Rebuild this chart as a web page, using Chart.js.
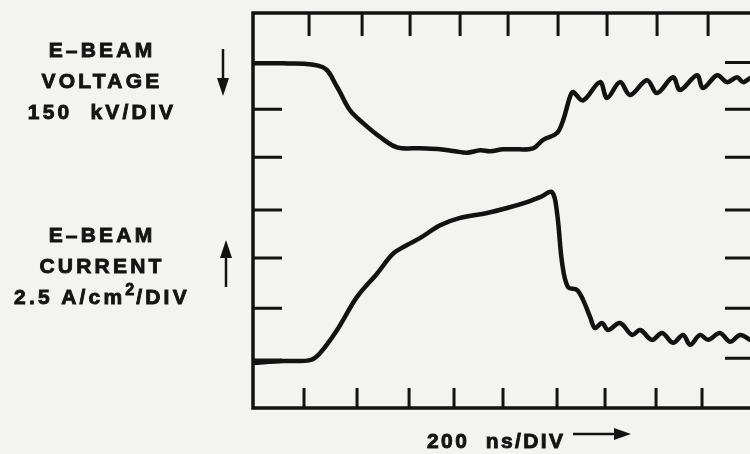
<!DOCTYPE html>
<html>
<head>
<meta charset="utf-8">
<script src="https://cdn.jsdelivr.net/npm/chart.js@4.4.1/dist/chart.umd.min.js"></script>
<style>
  html, body { margin:0; padding:0; background:#f3f3f1; overflow:hidden; }
  #wrap { position:relative; width:750px; height:454px; }
  canvas { position:absolute; left:0; top:0; }
  .lbl { position:absolute; font-family:"Liberation Sans", Arial, sans-serif; font-weight:bold; font-size:21px;
         color:#141414; letter-spacing:3.2px; text-align:center; white-space:nowrap; line-height:31px;
         -webkit-text-stroke:0.9px #141414; }
  .sup { font-size:16px; position:relative; top:-9px; letter-spacing:2px; }
</style>
</head>
<body>
<div id="wrap">
  <canvas id="c" width="750" height="454"></canvas>
  <div class="lbl" style="left:2px; top:34px; width:200px;">E–BEAM<br>VOLTAGE<br>150&nbsp; kV/DIV</div>
  <div class="lbl" style="left:2px; top:219px; width:200px;">E–BEAM<br>CURRENT<br>2.5 A/cm<span class="sup">2</span>/DIV</div>
  <div class="lbl" style="left:427px; top:425px; text-align:left; letter-spacing:2.4px;">200&nbsp; ns/DIV</div>
</div>
<script>
// Time axis in ns (200 ns/DIV); vertical axis in screen divisions (0 = bottom, 8 = top)
const voltageTime = [0, 119, 277, 333, 384, 436, 503, 570, 661, 741, 800, 847, 900, 939, 990, 1030, 1109, 1149, 1204, 1228, 1255, 1267, 1307, 1374, 1402, 1453, 1493, 1560, 1600, 1663, 1691, 1758, 1782, 1838, 1877, 1917, 1940, 1968];
const voltageDiv  = [6.98, 6.98, 6.90, 6.50, 6.03, 5.77, 5.49, 5.28, 5.26, 5.24, 5.20, 5.17, 5.22, 5.20, 5.24, 5.24, 5.26, 5.43, 5.57, 5.83, 6.30, 6.40, 6.23, 6.60, 6.28, 6.60, 6.34, 6.64, 6.38, 6.70, 6.44, 6.74, 6.48, 6.74, 6.60, 6.70, 6.60, 6.68];

const currentTime = [0, 119, 226, 265, 333, 412, 491, 554, 610, 661, 741, 820, 927, 1006, 1085, 1137, 1184, 1204, 1224, 1247, 1283, 1307, 1335, 1354, 1382, 1406, 1453, 1501, 1533, 1580, 1620, 1663, 1703, 1731, 1770, 1802, 1849, 1889, 1929, 1968];
const currentDiv  = [0.91, 0.95, 0.97, 1.11, 1.58, 2.25, 2.72, 3.12, 3.30, 3.44, 3.70, 3.85, 3.95, 4.05, 4.17, 4.27, 4.37, 3.95, 2.94, 2.45, 2.39, 2.19, 1.84, 1.62, 1.72, 1.58, 1.72, 1.48, 1.58, 1.38, 1.52, 1.32, 1.48, 1.28, 1.48, 1.38, 1.52, 1.34, 1.48, 1.38];

// Graticule tick marks (hand-drawn positions)
const topTicksNs    = [222, 432, 622, 820, 1010, 1208, 1402, 1600, 1802];
const bottomTicksNs = [202, 412, 618, 796, 990, 1204, 1394, 1596, 1778];
const leftTicksDiv  = [6.98, 6.05, 5.08, 4.01, 3.04, 2.02, 0.97];
const rightTicksDiv = [7.0, 6.05, 5.08, 4.01, 3.04, 2.02, 1.01];

const toPts = (xs, ys) => xs.map((x, i) => ({ x: x, y: ys[i] }));

const ink = '#121212';

const scopePlugin = {
  id: 'scope',
  afterDraw(chart) {
    const ctx = chart.ctx;
    const xs = chart.scales.x, ys = chart.scales.y;
    const a = chart.chartArea;
    ctx.save();
    ctx.strokeStyle = ink;
    ctx.fillStyle = ink;
    ctx.lineCap = 'square';
    // frame
    ctx.lineWidth = 3.5;
    ctx.beginPath();
    ctx.moveTo(a.right + 5, a.top);
    ctx.lineTo(a.left, a.top);
    ctx.lineTo(a.left, a.bottom);
    ctx.lineTo(a.right + 5, a.bottom);
    ctx.stroke();
    // ticks
    ctx.lineWidth = 3;
    ctx.lineCap = 'butt';
    ctx.beginPath();
    topTicksNs.forEach(t => { const p = xs.getPixelForValue(t); ctx.moveTo(p, a.top); ctx.lineTo(p, a.top + 23); });
    bottomTicksNs.forEach(t => { const p = xs.getPixelForValue(t); ctx.moveTo(p, a.bottom); ctx.lineTo(p, a.bottom - 20); });
    leftTicksDiv.forEach(v => { const p = ys.getPixelForValue(v); ctx.moveTo(a.left, p); ctx.lineTo(a.left + 29, p); });
    rightTicksDiv.forEach(v => { const p = ys.getPixelForValue(v); ctx.moveTo(a.right - 25, p); ctx.lineTo(a.right + 2, p); });
    ctx.stroke();

    // label arrows
    ctx.lineWidth = 2.5;
    // down arrow (voltage)
    ctx.beginPath(); ctx.moveTo(223, 49); ctx.lineTo(223, 82); ctx.stroke();
    ctx.beginPath(); ctx.moveTo(217, 78); ctx.lineTo(229, 78); ctx.lineTo(223, 96); ctx.closePath(); ctx.fill();
    // up arrow (current)
    ctx.beginPath(); ctx.moveTo(226, 254); ctx.lineTo(226, 287); ctx.stroke();
    ctx.beginPath(); ctx.moveTo(220, 258); ctx.lineTo(232, 258); ctx.lineTo(226, 240); ctx.closePath(); ctx.fill();
    // right arrow (time)
    ctx.beginPath(); ctx.moveTo(573, 434); ctx.lineTo(618, 434); ctx.stroke();
    ctx.beginPath(); ctx.moveTo(614, 428); ctx.lineTo(614, 440); ctx.lineTo(631, 434); ctx.closePath(); ctx.fill();
    ctx.restore();
  }
};

new Chart(document.getElementById('c'), {
  type: 'line',
  data: {
    datasets: [
      { label: 'E-BEAM VOLTAGE', data: toPts(voltageTime, voltageDiv) },
      { label: 'E-BEAM CURRENT', data: toPts(currentTime, currentDiv) }
    ]
  },
  options: {
    responsive: false,
    animation: false,
    devicePixelRatio: 1,
    layout: { padding: { left: 253, top: 13, right: 0, bottom: 46 } },
    elements: {
      line: { borderColor: ink, borderWidth: 4.5, tension: 0.35, fill: false, borderCapStyle: 'round', borderJoinStyle: 'round' },
      point: { radius: 0, hoverRadius: 0 }
    },
    scales: {
      x: { type: 'linear', min: 0, max: 1968, display: false },
      y: { type: 'linear', min: 0, max: 8, display: false }
    },
    plugins: { legend: { display: false }, tooltip: { enabled: false }, title: { display: false } }
  },
  plugins: [scopePlugin]
});
</script>
</body>
</html>
